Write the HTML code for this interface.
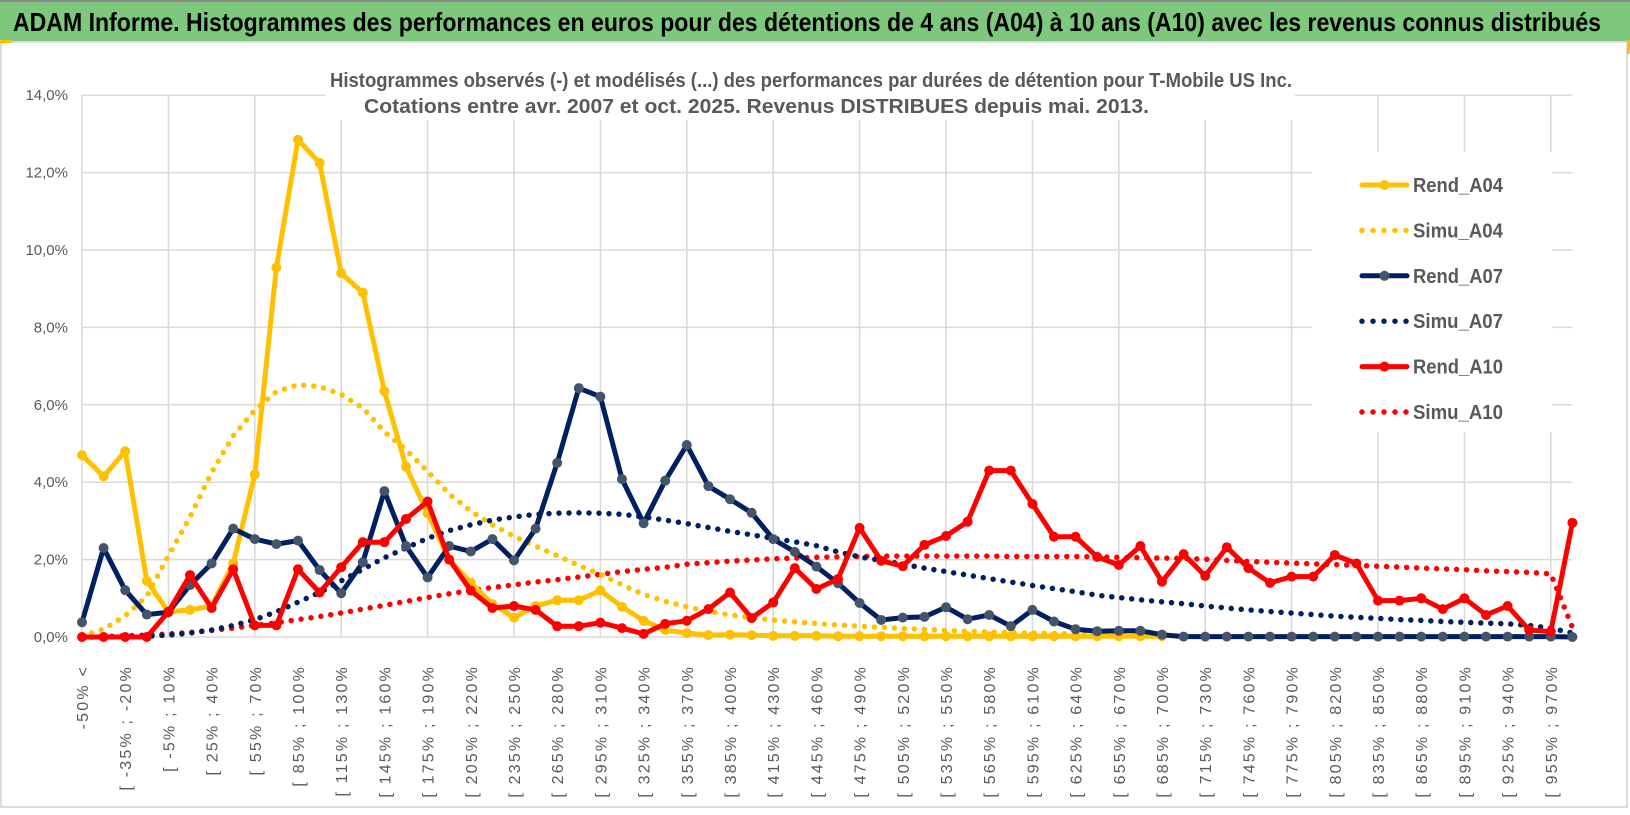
<!DOCTYPE html>
<html><head><meta charset="utf-8"><title>ADAM Informe</title>
<style>
html,body{margin:0;padding:0;background:#fff;}
svg{display:block;font-family:"Liberation Sans",sans-serif;}
</style></head>
<body>
<svg id="chart" width="1630" height="815" viewBox="0 0 1630 815" xmlns="http://www.w3.org/2000/svg">
  <rect x="0" y="0" width="1630" height="815" fill="#ffffff"/>
  <rect x="0" y="0" width="1630" height="41" fill="#7DC87D"/>
  <rect x="0" y="0" width="1630" height="2" fill="#8a8a8a"/>
  <text x="13" y="31" font-size="26" font-weight="bold" fill="#000" textLength="1588" lengthAdjust="spacingAndGlyphs">ADAM Informe. Histogrammes des performances en euros pour des détentions de 4 ans (A04) à 10 ans (A10) avec les revenus connus distribués</text>
  <rect x="1" y="42" width="1626" height="765" fill="none" stroke="#d0d0d0" stroke-width="1.5"/>
  <rect x="0" y="40" width="12" height="3" fill="#FFC000"/>
  <rect x="1627" y="40" width="3" height="14" fill="#FFC000"/>
  <g id="grid"></g>
  <rect x="325" y="58" width="970" height="62" fill="#fff"/>
  <text x="330" y="87" font-size="20" font-weight="bold" fill="#595959" textLength="962" lengthAdjust="spacingAndGlyphs">Histogrammes observés (-) et modélisés (...) des performances par durées de détention pour T-Mobile US Inc.</text>
  <text x="364" y="113" font-size="20" font-weight="bold" fill="#595959" textLength="785" lengthAdjust="spacingAndGlyphs">Cotations entre avr. 2007 et oct. 2025. Revenus DISTRIBUES depuis mai. 2013.</text>
  <g id="yaxis"></g>
  <g id="xaxis"></g>
  <g id="series"></g>
  <rect x="1312" y="152" width="240" height="280" fill="#fff"/>
  <g id="legend"></g>
</svg>
<script>
const categoryCount = 70;
const yTicks = [0, 2, 4, 6, 8, 10, 12, 14];
const rendA04 = [4.7,4.15,4.8,1.45,0.65,0.7,0.8,1.9,4.2,9.55,12.85,12.25,9.4,8.9,6.35,4.4,3.2,2.0,1.4,0.85,0.5,0.8,0.95,0.95,1.2,0.78,0.42,0.18,0.1,0.05,0.06,0.05,0.03,0.03,0.03,0.02,0.02,0.02,0.02,0.02,0.02,0.02,0.02,0.02,0.02,0.02,0.02,0.02,0.02,0.02,0.02];
const simuA04 = [0.03,0.2,0.55,1.05,2.1,3.1,4.25,5.2,5.86,6.34,6.52,6.47,6.27,5.92,5.3,4.84,4.28,3.7,3.25,2.9,2.6,2.35,2.1,1.85,1.62,1.35,1.1,0.92,0.78,0.66,0.57,0.5,0.44,0.39,0.35,0.31,0.28,0.25,0.22,0.2,0.17,0.15,0.13,0.11,0.1,0.09,0.08,0.07,0.06,0.05,0.05];
const rendA07 = [0.38,2.3,1.21,0.58,0.64,1.34,1.9,2.8,2.53,2.4,2.49,1.73,1.13,1.93,3.77,2.35,1.54,2.35,2.21,2.53,1.98,2.8,4.5,6.43,6.21,4.08,2.94,4.04,4.96,3.9,3.56,3.21,2.53,2.2,1.82,1.39,0.88,0.44,0.5,0.52,0.77,0.46,0.57,0.28,0.7,0.4,0.2,0.15,0.16,0.16,0.06,0.01,0.01,0.01,0.01,0.01,0.01,0.01,0.01,0.01,0.01,0.01,0.01,0.01,0.01,0.01,0.01,0.01,0.01,0];
const simuA07 = [0,0,0.01,0.02,0.05,0.1,0.18,0.3,0.45,0.65,0.9,1.15,1.45,1.75,2.05,2.3,2.55,2.75,2.9,3.02,3.1,3.17,3.2,3.21,3.2,3.17,3.1,3.02,2.93,2.83,2.73,2.64,2.55,2.46,2.36,2.2,2.07,1.98,1.88,1.78,1.69,1.6,1.51,1.42,1.33,1.25,1.17,1.08,1.02,0.96,0.91,0.86,0.8,0.75,0.7,0.66,0.62,0.58,0.54,0.51,0.48,0.45,0.43,0.4,0.38,0.36,0.34,0.3,0.23,0.1];
const rendA10 = [0,0,0,0,0.65,1.6,0.75,1.75,0.3,0.3,1.75,1.15,1.8,2.45,2.45,3.05,3.5,2.0,1.2,0.75,0.8,0.7,0.28,0.28,0.37,0.23,0.08,0.34,0.42,0.72,1.15,0.49,0.89,1.78,1.24,1.5,2.82,1.97,1.83,2.38,2.61,2.98,4.3,4.3,3.44,2.59,2.59,2.07,1.86,2.35,1.43,2.14,1.58,2.32,1.78,1.4,1.56,1.56,2.12,1.9,0.94,0.94,1.0,0.72,1.0,0.57,0.8,0.18,0.14,2.95];
const simuA10 = [0,0.01,0.03,0.05,0.08,0.12,0.17,0.23,0.3,0.37,0.45,0.53,0.62,0.72,0.82,0.92,1.02,1.12,1.2,1.28,1.35,1.42,1.48,1.55,1.62,1.69,1.75,1.8,1.88,1.92,1.96,1.99,2.02,2.04,2.06,2.07,2.08,2.09,2.09,2.09,2.09,2.09,2.09,2.08,2.08,2.08,2.08,2.07,2.06,2.05,2.04,2.03,2.01,1.98,1.95,1.93,1.91,1.89,1.87,1.85,1.83,1.81,1.78,1.76,1.74,1.71,1.69,1.67,1.63,0.25];

const NS = "http://www.w3.org/2000/svg";
const X0 = 82, DX = 21.6, Y0 = 637, PX_PER_PCT = 38.7;
function xPos(i){ return X0 + i * DX; }
function yPos(v){ return Y0 - v * PX_PER_PCT; }
function mk(tag, attrs, parent){
  const e = document.createElementNS(NS, tag);
  for (const k in attrs) e.setAttribute(k, attrs[k]);
  parent.appendChild(e);
  return e;
}
function catLabel(i){
  if (i === 0) return "-50% <";
  const a = -50 + 15 * (i - 1), b = a + 15;
  return "[ " + a + "% ; " + b + "%";
}

const grid = document.getElementById("grid");
yTicks.forEach(t => {
  const l = mk("line", {x1: X0, x2: xPos(categoryCount - 1), y1: yPos(t), y2: yPos(t), stroke: "#d9d9d9", "stroke-width": 1.5}, grid);
  
  
});
for (let i = 0; i < categoryCount; i += 4) {
  const l = mk("line", {x1: xPos(i), x2: xPos(i), y1: yPos(14), y2: Y0, stroke: "#d9d9d9", "stroke-width": 1.5}, grid);
  
  
}

const yaxis = document.getElementById("yaxis");
yTicks.forEach(t => {
  const tx = mk("text", {x: 68, y: yPos(t) + 5, "text-anchor": "end", "font-size": 15, fill: "#595959"}, yaxis);
  tx.textContent = t.toFixed(1).replace(".", ",") + "%";
  
  
});

const xaxis = document.getElementById("xaxis");
for (let i = 0; i < categoryCount; i += 2) {
  const x = xPos(i) + 6, y = 665;
  const tx = mk("text", {x: x, y: y, "text-anchor": "end", "font-size": 16, "letter-spacing": 2.2, fill: "#595959", transform: "rotate(-90 " + x + " " + y + ")"}, xaxis);
  tx.textContent = catLabel(i);
  
  
}

const seriesG = document.getElementById("series");
function pathOf(arr){
  return arr.map((v, i) => (i ? "L" : "M") + xPos(i).toFixed(1) + " " + yPos(v).toFixed(1)).join(" ");
}
function dotted(arr, color, name){
  const p = mk("path", {d: pathOf(arr), fill: "none", stroke: color, "stroke-width": 5.5, "stroke-linecap": "round", "stroke-dasharray": "0 10"}, seriesG);
  
  
}
function solid(arr, color, markerColor, name){
  const g = mk("g", {}, seriesG);
  
  
  const p = mk("path", {d: pathOf(arr), fill: "none", stroke: color, "stroke-width": 5, "stroke-linejoin": "round"}, g);
  
  
  arr.forEach((v, i) => {
    const c = mk("circle", {cx: xPos(i), cy: yPos(v), r: 5, fill: markerColor}, g);
    
    
  });
}
dotted(simuA10, "#FF0000", "simu-a10-line");
dotted(simuA07, "#002060", "simu-a07-line");
dotted(simuA04, "#FFC000", "simu-a04-line");
solid(rendA04, "#FFC000", "#FFC000", "rend-a04-series");
solid(rendA07, "#002060", "#44546A", "rend-a07-series");
solid(rendA10, "#FF0000", "#FF0000", "rend-a10-series");

const legend = document.getElementById("legend");
const legendNames = ["Rend_A04","Simu_A04","Rend_A07","Simu_A07","Rend_A10","Simu_A10"];
const legendColors = ["#FFC000","#FFC000","#002060","#002060","#FF0000","#FF0000"];
const legendMarkers = ["#FFC000",null,"#44546A",null,"#FF0000",null];
legendNames.forEach((n, k) => {
  const cy = 185 + k * 45.4;
  const g = mk("g", {}, legend);
  
  
  if (legendMarkers[k]) {
    mk("line", {x1: 1362, x2: 1407, y1: cy, y2: cy, stroke: legendColors[k], "stroke-width": 5, "stroke-linecap": "round"}, g);
    mk("circle", {cx: 1384.5, cy: cy, r: 5, fill: legendMarkers[k]}, g);
  } else {
    mk("line", {x1: 1362, x2: 1408, y1: cy, y2: cy, stroke: legendColors[k], "stroke-width": 5.5, "stroke-linecap": "round", "stroke-dasharray": "0 11"}, g);
  }
  const t = mk("text", {x: 1413, y: cy + 7, "font-size": 20, "font-weight": "bold", fill: "#595959", textLength: 90, lengthAdjust: "spacingAndGlyphs"}, g);
  t.textContent = n;
});
</script>
</body></html>
